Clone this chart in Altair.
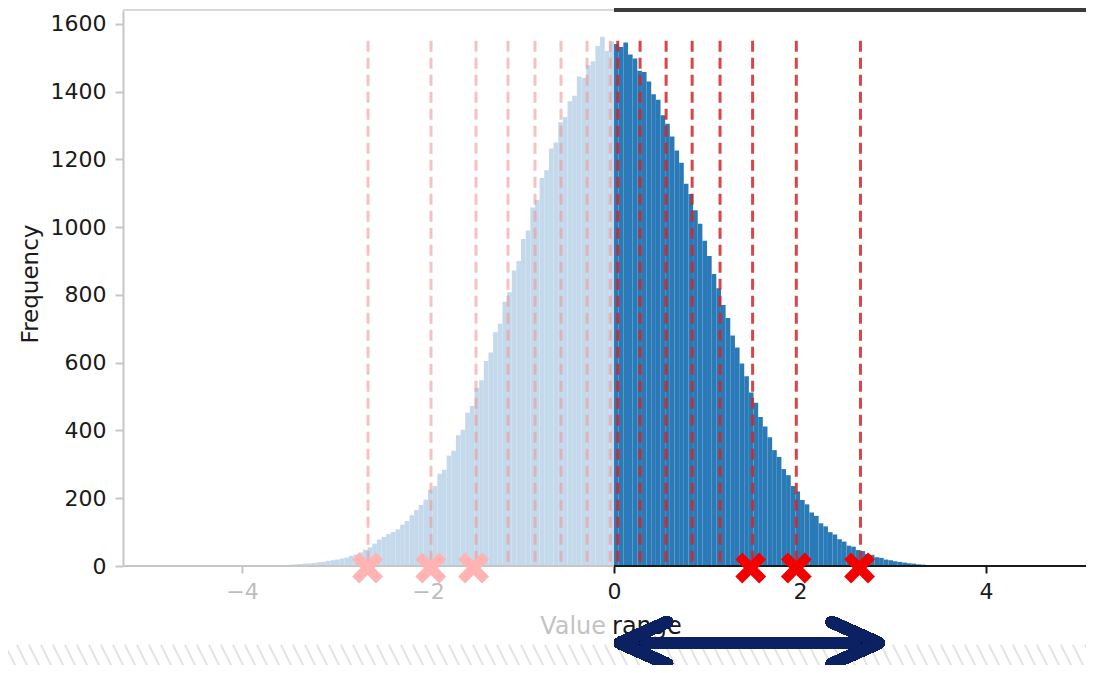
import altair as alt
import numpy as np
import pandas as pd

# ---------------- data ----------------
BIN_WIDTH = 0.05
LEFT_START = -3.6
RIGHT_START = 0.0
# counts for bins on the negative side, ascending x (-3.6 ... 0)
LEFT_COUNTS = [3, 3, 4, 5, 6, 7, 8, 9, 11, 12, 15, 17, 19, 22, 25, 30, 34, 40,
               48, 55, 66, 78, 86, 94, 100, 108, 122, 133, 150, 165, 180, 196,
               225, 236, 272, 284, 326, 340, 386, 402, 452, 472, 525, 548, 605,
               630, 690, 715, 780, 808, 872, 900, 965, 990, 1058, 1080, 1145,
               1168, 1232, 1250, 1310, 1325, 1372, 1388, 1445, 1440, 1478, 1490,
               1535, 1562, 1520, 1548]
# counts for bins on the positive side, ascending x (0 ... 3.6)
RIGHT_COUNTS = [1541, 1532, 1545, 1510, 1498, 1462, 1458, 1430, 1392, 1376,
                1330, 1305, 1268, 1226, 1190, 1128, 1098, 1050, 1010, 960, 915,
                862, 820, 770, 732, 680, 645, 598, 560, 512, 482, 440, 412, 380,
                342, 322, 286, 268, 236, 220, 195, 182, 158, 148, 126, 117, 100,
                93, 79, 72, 60, 57, 47, 44, 35, 33, 26, 24, 19, 17, 14, 12, 10,
                8, 7, 5, 4, 3, 2, 2, 1, 1]

PINK_LINES = [-2.645, -1.968, -1.484, -1.14, -0.85, -0.57, -0.29, -0.04]
RED_LINES = [0.04, 0.28, 0.56, 0.84, 1.14, 1.49, 1.96, 2.65]
LINE_TOP = 1550
PINK_MARKS = [-2.65, -1.97, -1.51]
RED_MARKS = [1.47, 1.96, 2.64]
X_TICKS = [-4, -2, 0, 2, 4]
Y_TICKS = [0, 200, 400, 600, 800, 1000, 1200, 1400, 1600]
ARROW_FROM, ARROW_TO = 0.0, 2.91

# ---------------- layout ----------------
X_MIN, X_MAX = -5.28, 5.075
Y_MAX = 1641
W, H = 963, 556
PAD = {"left": 115, "top": 2, "right": 0, "bottom": 99}
FONT = "DejaVu Sans"

LIGHT = "#c4d9ec"
DARK = "#2b7ab8"
GRAY = "#c6c6c6"
BLACK = "#1a1a1a"
NAVY = "#0b2161"

left_df = pd.DataFrame({
    "x0": [LEFT_START + i * BIN_WIDTH for i in range(len(LEFT_COUNTS))],
    "count": LEFT_COUNTS, "side": "neg"})
right_df = pd.DataFrame({
    "x0": [RIGHT_START + i * BIN_WIDTH for i in range(len(RIGHT_COUNTS))],
    "count": RIGHT_COUNTS, "side": "pos"})
hist = pd.concat([left_df, right_df], ignore_index=True)
hist["x1"] = hist["x0"] + BIN_WIDTH
hist["base"] = 0

xscale = alt.Scale(domain=[X_MIN, X_MAX], nice=False, zero=False)
yscale = alt.Scale(domain=[0, Y_MAX], nice=False, zero=True)

bars = alt.Chart(hist).mark_rect(strokeWidth=0).encode(
    x=alt.X("x0:Q", scale=xscale, axis=alt.Axis(
        values=X_TICKS, format="d", title=None, domain=False, grid=False,
        labelFont=FONT, labelFontSize=22, tickSize=7, tickWidth=2,
        labelPadding=8,
        labelColor=alt.condition("datum.value < 0", alt.value("#bdbdbd"), alt.value(BLACK)),
        tickColor=alt.condition("datum.value < 0", alt.value(GRAY), alt.value(BLACK)))),
    x2="x1:Q",
    y=alt.Y("count:Q", scale=yscale, axis=alt.Axis(
        values=Y_TICKS, format="d", title=None, domain=True, domainColor=GRAY,
        domainWidth=2, grid=False, labelFont=FONT, labelFontSize=22,
        labelColor=BLACK, tickColor=GRAY, tickSize=8, tickWidth=2, labelPadding=9)),
    y2="base:Q",
    color=alt.Color("side:N", scale=alt.Scale(domain=["neg", "pos"], range=[LIGHT, DARK]),
                    legend=None),
)

pink_df = pd.DataFrame({"x": PINK_LINES, "top": LINE_TOP, "bot": 0})
red_df = pd.DataFrame({"x": RED_LINES, "top": LINE_TOP, "bot": 0})

pink_rules = alt.Chart(pink_df).mark_rule(
    color="#ee9a9a", opacity=0.6, strokeWidth=3, strokeDash=[11, 6]).encode(
    x="x:Q", y="top:Q", y2="bot:Q")
red_rules = alt.Chart(red_df).mark_rule(
    color="#d42424", opacity=0.85, strokeWidth=3, strokeDash=[11, 6]).encode(
    x="x:Q", y="top:Q", y2="bot:Q")

# axis lines / frame
frame = [
    alt.Chart(hist).mark_rule(color=GRAY, strokeWidth=2).encode(
        x=alt.datum(X_MIN), x2=alt.datum(0), y=alt.datum(0)),
    alt.Chart(hist).mark_rule(color=BLACK, strokeWidth=2).encode(
        x=alt.datum(0), x2=alt.datum(X_MAX), y=alt.datum(0)),
    alt.Chart(hist).mark_rule(color="#d8d8d8", strokeWidth=2).encode(
        x=alt.datum(X_MIN), x2=alt.datum(0), y=alt.datum(Y_MAX)),
    alt.Chart(hist).mark_rule(color="#3a3a3a", strokeWidth=3).encode(
        x=alt.datum(0), x2=alt.datum(X_MAX), y=alt.datum(Y_MAX)),
]

XSHAPE = ("M-1,-0.55L-0.55,-1L0,-0.45L0.55,-1L1,-0.55L0.45,0L1,0.55L0.55,1"
          "L0,0.45L-0.55,1L-1,0.55L-0.45,0Z")
pm_df = pd.DataFrame({"x": PINK_MARKS, "y": -6})
rm_df = pd.DataFrame({"x": RED_MARKS, "y": -6})
pink_marks = alt.Chart(pm_df).mark_point(
    shape=XSHAPE, size=950, filled=True, color="#ffb3b3", opacity=1).encode(
    x="x:Q", y="y:Q")
red_marks = alt.Chart(rm_df).mark_point(
    shape=XSHAPE, size=950, filled=True, color="#f20000", opacity=1).encode(
    x="x:Q", y="y:Q")

# axis titles
ytitle = alt.Chart(pd.DataFrame({"t": ["Frequency"]})).mark_text(
    font=FONT, fontSize=23, color=BLACK, angle=270, align="center", baseline="middle").encode(
    text="t:N", x=alt.value(-92), y=alt.value(H / 2 - 4))
xt_value = alt.Chart(pd.DataFrame({"t": ["Value"]})).mark_text(
    font=FONT, fontSize=24, color="#c3c3c3", align="right", baseline="middle", dx=-8).encode(
    text="t:N", x=alt.datum(0), y=alt.value(H + 61))
xt_range = alt.Chart(pd.DataFrame({"t": ["range"]})).mark_text(
    font=FONT, fontSize=24, color=BLACK, align="left", baseline="middle", dx=-2).encode(
    text="t:N", x=alt.datum(0), y=alt.value(H + 61))

# hatched strip at the bottom
px = 1.0 / 93.0
hx = np.arange(X_MIN - 130 * px, X_MAX + 10 * px, 12 * px)
hatch_df = pd.DataFrame({"a": hx, "b": hx + 14 * px})
hatch = alt.Chart(hatch_df).mark_rule(color="#e3e3e3", strokeWidth=2).encode(
    x="a:Q", x2="b:Q", y=alt.value(H + 79), y2=alt.value(H + 107))

# double-headed arrow
tipL = ARROW_FROM + 6 * px
tipR = ARROW_TO - 6 * px
armL = ARROW_FROM + 53 * px
armR = ARROW_TO - 53 * px
ay = H + 77
arrow_kw = dict(color=NAVY, strokeWidth=12, strokeCap="round")
arrow = [
    alt.Chart(hist).mark_rule(color=NAVY, strokeWidth=12).encode(
        x=alt.datum(tipL + 4 * px), x2=alt.datum(tipR - 4 * px), y=alt.value(ay)),
    alt.Chart(hist).mark_rule(**arrow_kw).encode(
        x=alt.datum(tipL), x2=alt.datum(armL), y=alt.value(ay), y2=alt.value(ay - 21)),
    alt.Chart(hist).mark_rule(**arrow_kw).encode(
        x=alt.datum(tipL), x2=alt.datum(armL), y=alt.value(ay), y2=alt.value(ay + 21)),
    alt.Chart(hist).mark_rule(**arrow_kw).encode(
        x=alt.datum(tipR), x2=alt.datum(armR), y=alt.value(ay), y2=alt.value(ay - 21)),
    alt.Chart(hist).mark_rule(**arrow_kw).encode(
        x=alt.datum(tipR), x2=alt.datum(armR), y=alt.value(ay), y2=alt.value(ay + 21)),
]

chart = alt.layer(
    hatch, bars, pink_rules, red_rules, *frame, pink_marks, red_marks,
    ytitle, xt_value, xt_range, *arrow
).properties(
    width=W, height=H,
    autosize=alt.AutoSizeParams(type="none"),
    padding=PAD,
).configure_view(stroke=None).configure(background="white")

chart.save("out.html", embed_options={"renderer": "svg", "actions": False})
